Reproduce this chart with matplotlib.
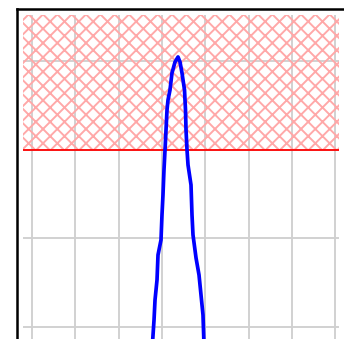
import matplotlib
matplotlib.use("Agg")
import matplotlib.pyplot as plt
from matplotlib.lines import Line2D

# curve (left flank, peak, right flank)
curve_x = [2.78, 2.818, 2.841, 2.887, 2.910, 2.979, 3.002, 3.025, 3.048, 3.072,
           3.095, 3.118, 3.141, 3.187, 3.233, 3.303, 3.372,
           3.418, 3.464, 3.522, 3.545, 3.557, 3.580, 3.603, 3.672, 3.695,
           3.718, 3.764, 3.788, 3.857, 3.903, 3.949, 3.972]
curve_y = [-0.2, 0.079, 0.305, 0.531, 0.814, 0.983, 1.266, 1.492, 1.774, 2.0,
           2.226, 2.452, 2.565, 2.678, 2.870, 2.994, 3.051,
           2.994, 2.870, 2.678, 2.452, 2.226, 2.0, 1.831, 1.605, 1.266,
           1.040, 0.870, 0.780, 0.588, 0.362, 0.136, -0.2]

threshold = 2.0
x_ticks = [0, 1, 2, 3, 4, 5, 6, 7]
y_ticks = [0, 1, 2, 3]

plt.rcParams["hatch.linewidth"] = 1.6

dpi = 86
fig = plt.figure(figsize=(344 / dpi, 339 / dpi), dpi=dpi)
ax = fig.add_axes([23 / 344, 0, 316 / 344, 1 - 15 / 339])

ax.set_xlim(-0.208, 7.09)
ax.set_ylim(-0.136, 3.525)
ax.set_xticks(x_ticks)
ax.set_yticks(y_ticks)
ax.tick_params(length=0, labelbottom=False, labelleft=False)
ax.grid(True, color="#d0d0d0", linewidth=1.6)
ax.set_axisbelow(True)
for s in ax.spines.values():
    s.set_visible(False)

# hatched zone above the threshold
ax.axhspan(threshold, 4, facecolor="none", edgecolor="#ffa8a8", hatch="xx", linewidth=0)
ax.axhline(threshold, color="red", linewidth=1.5)

ax.plot(curve_x, curve_y, color="blue", linewidth=3.1)

# black frame, left and top only
fig.add_artist(Line2D([16.8 / 344, 16.8 / 344], [0, 1 - 8.6 / 339], color="black",
                      linewidth=2.1, transform=fig.transFigure, solid_capstyle="projecting"))
fig.add_artist(Line2D([16.8 / 344, 1], [1 - 8.6 / 339, 1 - 8.6 / 339], color="black",
                      linewidth=2.1, transform=fig.transFigure, solid_capstyle="projecting"))

fig.savefig("out.png", dpi=dpi)
